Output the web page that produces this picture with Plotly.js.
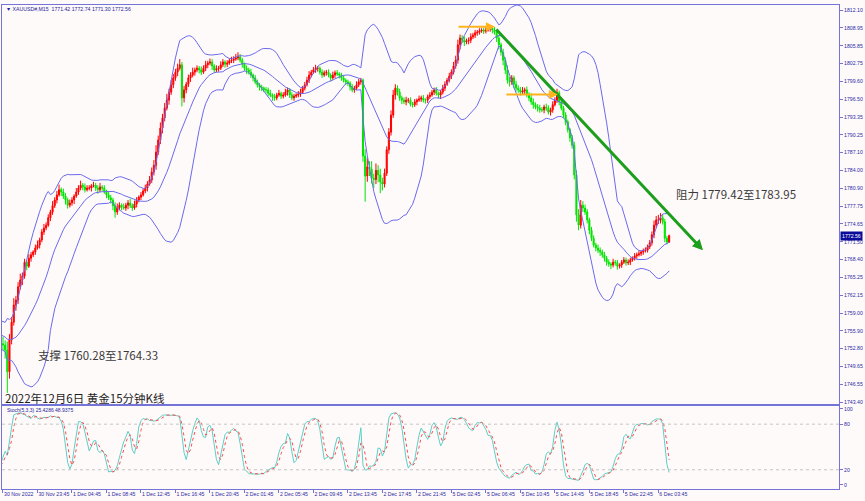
<!DOCTYPE html>
<html><head><meta charset="utf-8">
<script src="https://cdn.plot.ly/plotly-3.0.1.min.js"></script>
<style>html,body{margin:0;padding:0;background:#fffafa;}#chart{width:865px;height:501px;}</style>
</head><body><div id="chart"></div>
<script>
// bar index of first close (20 warm-up bars lie left of the visible window)
const firstBar = -20;
const closes = [
1756.5,1757.0,1756.2,1755.8,1756.4,1757.1,1756.8,1755.9,1755.2,1755.6,
1754.8,1754.1,1754.6,1755.0,1754.3,1753.8,1754.2,1753.5,1752.9,1753.6,
1753.4,1752.5,1748.7,1754.3,1757.4,1760.4,1761.3,1763.6,1764.8,1765.5,
1767.9,1767.2,1768.6,1769.2,1769.7,1770.4,1770.9,1771.8,1773.2,1773.9,
1774.4,1775.7,1776.7,1777.8,1778.8,1779.7,1780.6,1780.2,1779.5,1778.8,
1777.9,1778.3,1778.8,1779.5,1780.2,1780.9,1781.4,1781.1,1780.6,1780.9,
1780.9,1781.3,1781.4,1780.9,1780.6,1781.1,1780.9,1780.2,1779.7,1779.2,
1778.8,1777.8,1776.7,1777.4,1777.9,1777.6,1777.4,1777.9,1778.3,1777.8,
1777.4,1778.1,1778.8,1779.3,1779.7,1780.4,1780.9,1781.6,1782.3,1783.7,
1784.9,1787.2,1789.3,1791.4,1793.2,1794.9,1796.3,1797.7,1799.0,1800.2,
1801.2,1801.9,1802.5,1796.7,1798.1,1799.1,1800.2,1800.7,1801.2,1801.6,
1801.9,1801.6,1801.2,1801.9,1802.5,1802.8,1803.0,1802.3,1801.6,1801.8,
1801.9,1802.5,1803.0,1802.6,1802.8,1803.2,1803.3,1803.5,1803.7,1803.9,
1803.3,1802.6,1801.9,1801.6,1801.2,1800.7,1800.2,1799.5,1799.0,1798.6,
1798.4,1798.1,1798.1,1797.5,1797.2,1796.9,1796.7,1797.2,1797.5,1797.0,
1797.2,1797.7,1798.1,1797.2,1796.7,1797.0,1797.2,1797.4,1797.7,1798.4,
1799.0,1799.8,1800.7,1801.2,1801.6,1801.9,1801.9,1801.2,1800.7,1801.1,
1801.2,1800.7,1800.2,1800.7,1801.1,1800.9,1800.7,1800.2,1799.8,1799.5,
1799.3,1798.6,1798.1,1798.4,1799.0,1799.5,1799.8,1786.5,1783.0,1784.6,
1784.2,1782.6,1782.4,1784.0,1783.2,1782.0,1781.6,1783.5,1787.6,1790.7,
1793.7,1797.2,1798.4,1797.7,1796.7,1796.3,1796.0,1796.3,1796.3,1795.6,
1795.5,1796.0,1796.3,1796.5,1796.7,1796.3,1796.3,1796.9,1797.2,1797.7,
1798.1,1797.5,1797.2,1797.7,1798.4,1799.1,1799.8,1800.5,1801.2,1802.3,
1803.3,1806.0,1807.2,1806.8,1806.5,1806.7,1806.8,1807.4,1807.7,1808.1,
1808.2,1808.4,1808.6,1808.4,1808.6,1808.8,1808.9,1808.6,1808.2,1807.2,
1806.0,1804.7,1803.3,1801.6,1799.8,1799.5,1800.2,1799.1,1798.4,1798.1,
1797.7,1797.9,1798.1,1797.2,1796.7,1796.0,1795.5,1795.1,1794.9,1794.6,
1794.6,1795.1,1794.9,1794.2,1794.6,1795.5,1796.3,1797.6,1796.0,1794.9,
1793.7,1792.5,1791.1,1789.7,1788.4,1783.2,1776.2,1774.4,1777.9,1777.4,
1776.7,1775.3,1773.5,1772.1,1770.9,1770.4,1770.0,1769.7,1769.2,1768.6,
1767.9,1767.6,1767.4,1767.9,1767.8,1767.2,1767.4,1767.9,1768.3,1767.8,
1767.9,1768.3,1768.6,1769.0,1769.2,1769.4,1769.7,1769.9,1770.0,1770.6,
1771.3,1772.7,1774.4,1775.3,1775.3,1775.7,1775.0,1772.1,1771.42,1772.56
];
// upper wick above the candle body, in dollars
const upperWicks = [
0.5,0.4,0.6,0.3,0.5,0.4,0.6,0.5,0.3,0.4,0.5,0.6,0.4,0.3,0.5,0.4,0.6,0.5,0.4,0.5,
1.2,0.8,1.5,1.0,0.9,1.2,0.7,0.8,1.1,0.6,
0.6,0.4,0.7,0.5,0.3,0.6,0.8,0.4,0.5,0.7,
0.5,0.6,0.4,0.8,0.5,0.7,0.9,0.4,0.6,0.5,
0.4,0.6,0.5,0.3,0.7,0.5,0.8,0.4,0.6,0.5,
0.5,0.3,0.6,0.4,0.5,0.7,0.3,0.5,0.4,0.6,
0.5,0.4,0.6,0.8,0.5,0.3,0.6,0.4,0.5,0.7,
0.4,0.6,0.5,0.3,0.5,0.4,0.6,0.5,0.7,0.8,
0.9,1.2,0.8,1.0,0.7,0.9,1.1,0.6,0.8,0.7,
0.6,0.8,1.0,0.5,0.7,0.4,0.6,0.5,0.8,0.4,
0.5,0.4,0.6,0.5,0.7,0.4,0.6,0.5,0.3,0.6,
0.4,0.6,0.5,0.3,0.5,0.4,0.6,0.5,0.7,0.8,
0.5,0.4,0.3,0.5,0.4,0.6,0.3,0.5,0.4,0.3,
0.4,0.3,0.5,0.4,0.6,0.3,0.5,0.4,0.6,0.3,
0.5,0.6,0.4,0.3,0.5,0.4,0.3,0.5,0.6,0.4,
0.5,0.6,0.7,0.4,0.5,0.6,0.4,0.3,0.5,0.4,
0.4,0.5,0.3,0.6,0.4,0.5,0.3,0.4,0.5,0.3,
0.4,0.3,0.5,0.4,0.6,0.5,0.4,0.3,1.2,1.5,
1.0,1.4,0.8,1.2,0.9,1.1,0.7,0.8,0.6,0.7,
0.8,0.9,0.7,0.5,0.6,0.4,0.5,0.6,0.4,0.5,
0.4,0.5,0.3,0.6,0.4,0.5,0.3,0.4,0.5,0.4,
0.4,0.5,0.3,0.4,0.6,0.5,0.4,0.6,0.5,0.7,
0.8,0.9,0.6,0.5,0.7,0.4,0.5,0.6,0.4,0.5,
0.4,0.5,0.3,0.4,0.5,0.6,0.4,0.3,0.5,0.4,
0.5,0.4,0.6,0.5,0.8,0.6,0.5,0.4,0.6,0.5,
0.5,0.7,0.4,0.6,0.5,0.8,0.6,0.4,0.5,0.6,
0.5,0.4,0.6,0.5,0.4,0.6,0.5,0.7,0.4,0.5,
0.4,0.5,0.4,0.3,0.5,0.6,0.8,1.0,0.9,0.7,
0.6,0.5,0.4,0.6,0.5,0.4,0.6,0.5,0.4,0.5,
0.4,0.5,0.3,0.6,0.4,0.5,0.3,0.4,0.5,0.4,
0.5,0.4,0.3,0.5,0.4,0.6,0.3,0.4,0.5,0.4,
0.5,0.6,0.8,0.7,0.9,0.8,0.6,0.5,0.4,0.18
];
// lower wick below the candle body, in dollars
const lowerWicks = [
0.4,0.5,0.3,0.6,0.4,0.5,0.3,0.4,0.6,0.5,0.4,0.3,0.5,0.6,0.4,0.5,0.3,0.4,0.6,0.4,
0.9,1.5,3.7,1.2,0.8,0.6,1.0,0.7,0.5,0.9,
0.5,0.7,0.3,0.6,0.4,0.5,0.3,0.6,0.4,0.5,
0.4,0.3,0.6,0.5,0.4,0.6,0.3,0.7,0.5,0.8,
0.6,0.4,0.5,0.7,0.3,0.5,0.4,0.6,0.5,0.3,
0.4,0.6,0.3,0.5,0.7,0.4,0.5,0.3,0.6,0.4,
0.6,0.8,1.0,0.5,0.4,0.6,0.3,0.5,0.7,0.4,
0.5,0.3,0.6,0.4,0.5,0.3,0.4,0.6,0.3,0.5,
0.6,0.8,0.5,0.7,0.9,0.6,0.4,0.8,0.5,0.6,
0.5,0.7,0.4,1.5,0.8,0.6,0.5,0.7,0.4,0.6,
0.4,0.6,0.5,0.3,0.5,0.6,0.4,0.7,0.5,0.4,
0.5,0.3,0.4,0.6,0.5,0.3,0.4,0.5,0.3,0.4,
0.4,0.6,0.5,0.7,0.4,0.5,0.6,0.4,0.5,0.6,
0.5,0.4,0.6,0.5,0.4,0.7,0.5,0.4,0.3,0.5,
0.4,0.3,0.6,0.5,0.4,0.5,0.3,0.4,0.5,0.3,
0.4,0.3,0.5,0.4,0.3,0.5,0.6,0.4,0.5,0.3,
0.5,0.4,0.6,0.3,0.5,0.4,0.6,0.5,0.4,0.5,
0.5,0.6,0.4,0.5,0.3,0.4,0.5,1.0,4.5,1.0,
1.2,0.9,1.5,0.8,1.3,2.0,1.1,0.6,0.5,0.7,
0.6,0.5,0.8,0.6,0.5,0.7,0.4,0.6,0.5,0.4,
0.5,0.4,0.6,0.3,0.5,0.4,0.6,0.5,0.4,0.3,
0.5,0.4,0.6,0.7,0.4,0.5,0.3,0.4,0.5,0.4,
0.5,0.6,0.8,0.5,0.7,0.4,0.6,0.5,0.4,0.5,
0.5,0.4,0.3,0.5,0.4,0.3,0.5,0.6,0.4,0.7,
0.8,0.6,0.9,0.7,0.6,0.8,0.5,0.7,0.6,0.5,
0.6,0.5,0.7,0.4,0.6,0.5,0.7,0.4,0.6,0.5,
0.4,0.6,0.5,0.4,0.6,0.5,0.3,0.5,0.6,0.4,
0.5,0.6,0.5,0.7,0.6,0.8,1.2,0.9,0.6,0.7,
0.5,0.6,0.7,0.5,0.4,0.6,0.5,0.7,0.5,0.6,
0.6,0.5,0.7,0.4,0.5,0.6,0.4,0.5,0.3,0.5,
0.4,0.5,0.3,0.4,0.5,0.3,0.4,0.5,0.3,0.4,
0.4,0.5,0.6,0.5,0.7,0.6,0.5,0.7,0.4,0.12
];
const xTickBars = [0,16,32,48,64,80,96,112,128,144,160,176,192,208,224,240,256,272,288,304];
const xTickLabels = ["30 Nov 2022","30 Nov 23:45","1 Dec 04:45","1 Dec 08:45","1 Dec 12:45","1 Dec 16:45","1 Dec 20:45","2 Dec 01:45","2 Dec 05:45","2 Dec 09:45","2 Dec 13:45","2 Dec 17:45","2 Dec 21:45","5 Dec 02:45","5 Dec 06:45","5 Dec 10:45","5 Dec 14:45","5 Dec 18:45","5 Dec 22:45","6 Dec 03:45"];
const priceTicks = [1812.10,1808.95,1805.85,1802.75,1799.60,1796.50,1793.35,1790.25,1787.10,1784.00,1780.90,1777.75,1774.65,1771.50,1768.40,1765.25,1762.15,1759.00,1755.90,1752.80,1749.65,1746.55,1743.40];
const stochTicks = [0,20,80,100];
const lastPrice = 1772.56;

// ---- derived series ----
const n = closes.length;
const xs = [], opens = [], highs = [], lows = [];
for (let i = 0; i < n; i++) {
  xs.push(firstBar + i);
  const o = i === 0 ? closes[0] : closes[i-1];
  opens.push(o);
  highs.push(Math.max(o, closes[i]) + upperWicks[i]);
  lows.push(Math.min(o, closes[i]) - lowerWicks[i]);
}
// Bollinger Bands (20, 2)
const bbX = [], bbU = [], bbM = [], bbL = [];
for (let i = 19; i < n; i++) {
  let s = 0; for (let k = i-19; k <= i; k++) s += closes[k];
  const m = s/20; let v = 0;
  for (let k = i-19; k <= i; k++) v += (closes[k]-m)*(closes[k]-m);
  const sd = Math.sqrt(v/20);
  bbX.push(xs[i]); bbM.push(m); bbU.push(m+2*sd); bbL.push(m-2*sd);
}
// Stochastic (5,3,3)
const num = [], den = [];
for (let i = 0; i < n; i++) {
  if (i < 4) { num.push(null); den.push(null); continue; }
  let hh = -Infinity, ll = Infinity;
  for (let k = i-4; k <= i; k++) { hh = Math.max(hh, highs[k]); ll = Math.min(ll, lows[k]); }
  num.push(closes[i]-ll); den.push(hh-ll);
}
const kX = [], kV = [];
for (let i = 6; i < n; i++) {
  const a = num[i]+num[i-1]+num[i-2], b = den[i]+den[i-1]+den[i-2];
  kX.push(xs[i]); kV.push(b === 0 ? 100 : 100*a/b);
}
const sX = [], sV = [];
for (let j = 2; j < kV.length; j++) { sX.push(kX[j]); sV.push((kV[j]+kV[j-1]+kV[j-2])/3); }

const bandColor = '#6a6aee';
const traces = [
  {type:'candlestick', x:xs, open:opens, high:highs, low:lows, close:closes, xaxis:'x', yaxis:'y',
   increasing:{line:{color:'#ff0000', width:1}, fillcolor:'#ff0000'},
   decreasing:{line:{color:'#00e400', width:1}, fillcolor:'#00e400'},
   whiskerwidth:0, hoverinfo:'skip'},
  {type:'scatter', mode:'lines', x:bbX, y:bbU, line:{color:bandColor, width:1}, xaxis:'x', yaxis:'y', hoverinfo:'skip'},
  {type:'scatter', mode:'lines', x:bbX, y:bbM, line:{color:bandColor, width:1}, xaxis:'x', yaxis:'y', hoverinfo:'skip'},
  {type:'scatter', mode:'lines', x:bbX, y:bbL, line:{color:bandColor, width:1}, xaxis:'x', yaxis:'y', hoverinfo:'skip'},
  {type:'scatter', mode:'lines', x:kX, y:kV, line:{color:'#5ccfc6', width:1}, xaxis:'x2', yaxis:'y2', hoverinfo:'skip'},
  {type:'scatter', mode:'lines', x:sX, y:sV, line:{color:'#ff4a4a', width:1, dash:'dot'}, xaxis:'x2', yaxis:'y2', hoverinfo:'skip'}
];

const frame = '#7474d8';
const tickFont = {family:'Liberation Sans, Arial, sans-serif', size:5.2, color:'#2b2ba6'};
const xRange = [-0.46, 387.8];
const layout = {
  width:865, height:501,
  paper_bgcolor:'#fffafa', plot_bgcolor:'#fffafa',
  margin:{l:2, r:26, t:5, b:12},
  showlegend:false,
  xaxis:{domain:[0,1], anchor:'y', range:xRange, showline:true, mirror:true, linecolor:frame, linewidth:1,
         showgrid:false, zeroline:false, showticklabels:false, ticks:'', rangeslider:{visible:false}, fixedrange:true},
  yaxis:{domain:[0.1756,1], anchor:'x', side:'right', range:[1743.05,1812.98], tickvals:priceTicks,
         ticktext:priceTicks.map(v=>v.toFixed(2)), ticks:'outside', ticklen:3, tickcolor:frame,
         tickfont:tickFont, showline:true, mirror:true, linecolor:frame, showgrid:false, zeroline:false, fixedrange:true},
  xaxis2:{domain:[0,1], anchor:'y2', range:xRange, tickvals:xTickBars, ticktext:xTickLabels, ticks:'outside',
          ticklen:3, tickcolor:frame, tickangle:0, ticklabelposition:'outside right', tickfont:tickFont,
          showline:true, mirror:true, linecolor:frame, showgrid:false, zeroline:false, fixedrange:true},
  yaxis2:{domain:[0,0.1715], anchor:'x2', side:'right', range:[-5.3,103.9], tickvals:stochTicks,
          ticktext:stochTicks.map(String), ticks:'outside', ticklen:3, tickcolor:frame, tickfont:tickFont,
          showline:true, mirror:true, linecolor:frame, showgrid:false, zeroline:false, fixedrange:true},
  shapes:[
    {type:'line', xref:'x2 domain', x0:0, x1:1, yref:'y2', y0:80, y1:80, line:{color:'#c4c4c4', width:1, dash:'dot'}},
    {type:'line', xref:'x2 domain', x0:0, x1:1, yref:'y2', y0:20, y1:20, line:{color:'#c4c4c4', width:1, dash:'dot'}}
  ],
  annotations:[
    {xref:'x', yref:'y', x:324.7, y:1770.0, axref:'x', ayref:'y', ax:228.2, ay:1808.95, text:'', showarrow:true,
     arrowhead:2, arrowsize:0.7, arrowwidth:3, arrowcolor:'#1d9e1d', standoff:0, startstandoff:0},
    {xref:'x', yref:'y', x:228.2, y:1809.15, axref:'x', ayref:'y', ax:210.6, ay:1809.15, text:'', showarrow:true,
     arrowhead:2, arrowsize:0.9, arrowwidth:2, arrowcolor:'#ffb41e', standoff:0},
    {xref:'x', yref:'y', x:257.4, y:1797.3, axref:'x', ayref:'y', ax:232.8, ay:1797.3, text:'', showarrow:true,
     arrowhead:2, arrowsize:0.9, arrowwidth:2, arrowcolor:'#ffb41e', standoff:0},
    {xref:'x', yref:'y', x:15.2, y:1751.6, xanchor:'left', yanchor:'middle', showarrow:false,
     text:'支撑 1760.28至1764.33', font:{family:'Noto Sans CJK SC, sans-serif', size:11.5, color:'#3a3a3a'}},
    {xref:'x', yref:'y', x:311.3, y:1779.8, xanchor:'left', yanchor:'middle', showarrow:false,
     text:'阻力 1779.42至1783.95', font:{family:'Noto Sans CJK SC, sans-serif', size:11.5, color:'#3a3a3a'}},
    {xref:'x', yref:'y', x:0, y:1744.1, xanchor:'left', yanchor:'middle', showarrow:false,
     text:'2022年12月6日 黄金15分钟K线', font:{family:'Noto Sans CJK SC, sans-serif', size:11.5, color:'#1e1e1e'}},
    {xref:'x', yref:'y', x:0.5, y:1812.3, xanchor:'left', yanchor:'middle', showarrow:false,
     text:'▼ XAUUSD#,M15  1771.42 1772.74 1771.30 1772.56', font:{family:'Liberation Sans, Arial, sans-serif', size:5.2, color:'#1c1c9c'}},
    {xref:'x2', yref:'y2', x:1, y:98.5, xanchor:'left', yanchor:'middle', showarrow:false,
     text:'Stoch(5,3,3) 25.4286 48.9375', font:{family:'Liberation Sans, Arial, sans-serif', size:5, color:'#1c1c9c'}},
    {xref:'paper', yref:'y', x:1, xshift:1, y:lastPrice, xanchor:'left', yanchor:'middle', showarrow:false,
     text:lastPrice.toFixed(2), bgcolor:'#0b0b9a', borderpad:1, font:{family:'Liberation Sans, Arial, sans-serif', size:5.2, color:'#ffffff'}}
  ]
};
Plotly.newPlot('chart', traces, layout, {staticPlot:true, displayModeBar:false});
</script></body></html>
